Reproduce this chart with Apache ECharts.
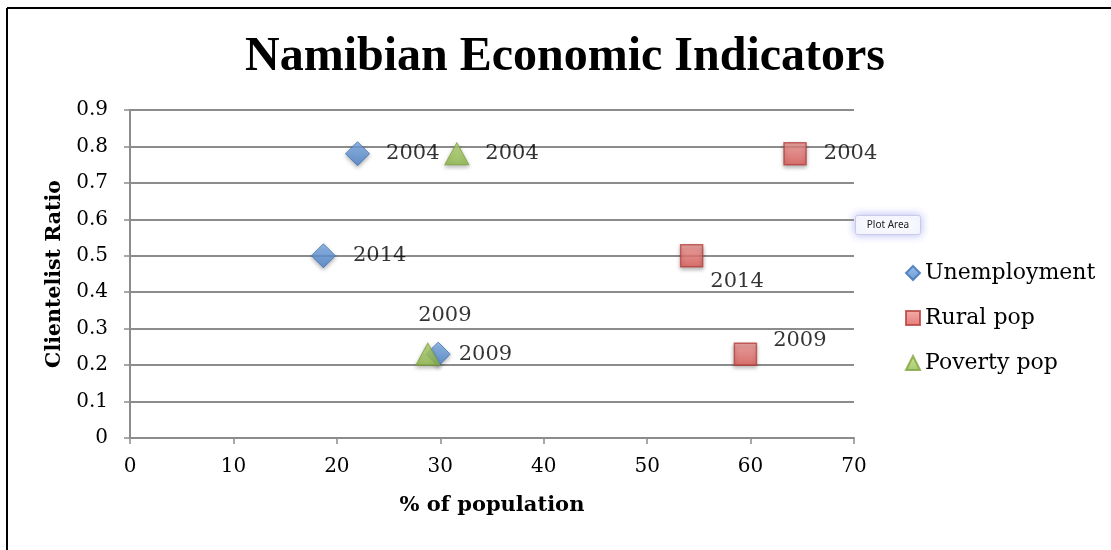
<!DOCTYPE html>
<html>
<head>
<meta charset="utf-8">
<style>
  html, body { margin: 0; padding: 0; background: #fff; }
  #chart { width: 1111px; height: 550px; }
</style>
<script src="https://cdn.jsdelivr.net/npm/echarts@6/dist/echarts.min.js"></script>
</head>
<body>
<div id="chart"></div>
<script>
// data
var years = ['2004', '2014', '2009'];
var unemployment = [[22.0, 0.78], [18.7, 0.50], [29.8, 0.23]];
var ruralPop = [[64.3, 0.78], [54.3, 0.50], [59.5, 0.23]];
var povertyPop = [[31.6, 0.78], [28.8, 0.23]];
var povertyYears = ['2004', '2009'];
var xTicks = [0, 10, 20, 30, 40, 50, 60, 70];

var serif = '"DejaVu Serif", "Liberation Serif", serif';
var titleSerif = '"Liberation Serif", "DejaVu Serif", serif';

function labelled(values, names, labelOpts) {
    return values.map(function (v, i) {
        return { value: v, name: names[i], label: labelOpts[i] };
    });
}

var labelBase = { show: true, formatter: '{b}', color: '#000', fontFamily: serif, fontSize: 21 };

var MyEchart = echarts.init(document.getElementById('chart'));
var option = {
    animation: false,
    title: {
        text: 'Namibian Economic Indicators',
        left: 240,
        top: 29,
        textStyle: { fontFamily: titleSerif, fontWeight: 'bold', fontSize: 48, color: '#000' }
    },
    legend: {
        orient: 'vertical',
        left: 900,
        top: 257,
        itemGap: 23,
        itemWidth: 14,
        itemHeight: 14,
        textStyle: { fontFamily: serif, fontSize: 22, color: '#000' },
        data: ['Unemployment', 'Rural pop', 'Poverty pop']
    },
    grid: { left: 130, right: 257, top: 110, bottom: 112, containLabel: false },
    xAxis: {
        type: 'value',
        min: 0, max: 70, interval: 10,
        name: '% of population',
        nameLocation: 'middle',
        nameGap: 57,
        nameTextStyle: { fontFamily: serif, fontWeight: 'bold', fontSize: 21, color: '#000' },
        axisLine: { show: true, lineStyle: { color: '#8c8c8c', width: 2 } },
        axisTick: { show: true, length: 6, lineStyle: { color: '#8c8c8c', width: 1.5 } },
        axisLabel: {
            margin: 19, fontFamily: serif, fontSize: 20, color: '#000',
            formatter: function (v) { return xTicks.indexOf(v) >= 0 ? String(v) : ''; }
        },
        splitLine: { show: false }
    },
    yAxis: {
        type: 'value',
        min: 0, max: 0.9, interval: 0.1,
        name: 'Clientelist Ratio',
        nameLocation: 'middle',
        nameGap: 64,
        nameTextStyle: { fontFamily: serif, fontWeight: 'bold', fontSize: 20.5, color: '#000' },
        axisLine: { show: true, lineStyle: { color: '#8c8c8c', width: 2 } },
        axisTick: { show: true, length: 6, lineStyle: { color: '#8c8c8c', width: 1.5 } },
        axisLabel: {
            margin: 22, fontFamily: serif, fontSize: 20, color: '#000',
            formatter: function (v) { return v === 0 ? '0' : v.toFixed(1); }
        },
        splitLine: { show: true, lineStyle: { color: '#8c8c8c', width: 2 } }
    },
    series: [
        {
            name: 'Unemployment',
            type: 'scatter',
            symbol: 'diamond',
            symbolSize: [24, 24],
            itemStyle: {
                color: new echarts.graphic.LinearGradient(0, 0, 0, 1, [
                    { offset: 0, color: '#7fb0ea' }, { offset: 1, color: '#4a80c8' }]),
                borderColor: '#3d6fb3', borderWidth: 1,
                shadowBlur: 4, shadowOffsetY: 2, shadowColor: 'rgba(0,0,0,0.35)'
            },
            data: labelled(unemployment, years, [
                Object.assign({}, labelBase, { position: 'right', distance: 16 }),
                Object.assign({}, labelBase, { position: 'right', distance: 17 }),
                Object.assign({}, labelBase, { position: 'right', distance: 8 })
            ])
        },
        {
            name: 'Rural pop',
            type: 'scatter',
            symbol: 'rect',
            symbolSize: 22,
            itemStyle: {
                color: new echarts.graphic.LinearGradient(0, 0, 0, 1, [
                    { offset: 0, color: '#f29a97' }, { offset: 1, color: '#df5b57' }]),
                borderColor: '#b5413d', borderWidth: 1.5,
                shadowBlur: 4, shadowOffsetY: 2, shadowColor: 'rgba(0,0,0,0.35)'
            },
            data: labelled(ruralPop, years, [
                Object.assign({}, labelBase, { position: 'right', distance: 17 }),
                Object.assign({}, labelBase, { position: 'right', distance: 7, offset: [0, 26] }),
                Object.assign({}, labelBase, { position: 'right', distance: 16, offset: [0, -14] })
            ])
        },
        {
            name: 'Poverty pop',
            type: 'scatter',
            symbol: 'triangle',
            symbolSize: [24, 22],
            itemStyle: {
                color: new echarts.graphic.LinearGradient(0, 0, 0, 1, [
                    { offset: 0, color: '#bfe07a' }, { offset: 1, color: '#90bb4a' }]),
                borderColor: '#7fa33d', borderWidth: 1,
                shadowBlur: 4, shadowOffsetY: 2, shadowColor: 'rgba(0,0,0,0.35)'
            },
            data: labelled(povertyPop, povertyYears, [
                Object.assign({}, labelBase, { position: 'right', distance: 16 }),
                Object.assign({}, labelBase, { position: 'top', distance: 17, offset: [17, 0] })
            ])
        }
    ],
    graphic: [
        // frame edges seen at the top and left of the picture
        { type: 'line', shape: { x1: 7, y1: 8, x2: 1111, y2: 8 }, style: { stroke: '#000', lineWidth: 2 } },
        { type: 'line', shape: { x1: 7, y1: 8, x2: 7, y2: 550 }, style: { stroke: '#000', lineWidth: 2 } },
        // the "Plot Area" hover tip
        {
            type: 'group', left: 855, top: 215,
            children: [
                { type: 'rect', shape: { x: 0, y: 0, width: 65, height: 19, r: 2 },
                  style: { fill: '#fbfbff', stroke: '#c9cbe8', lineWidth: 1, shadowBlur: 8, shadowColor: 'rgba(90,100,230,0.45)' } },
                { type: 'text', x: 32.5, y: 10,
                  style: { text: 'Plot Area', font: '10px "Noto Sans", "DejaVu Sans", sans-serif', fill: '#222', align: 'center', verticalAlign: 'middle' } }
            ]
        }
    ]
};
MyEchart.setOption(option);
</script>
</body>
</html>
